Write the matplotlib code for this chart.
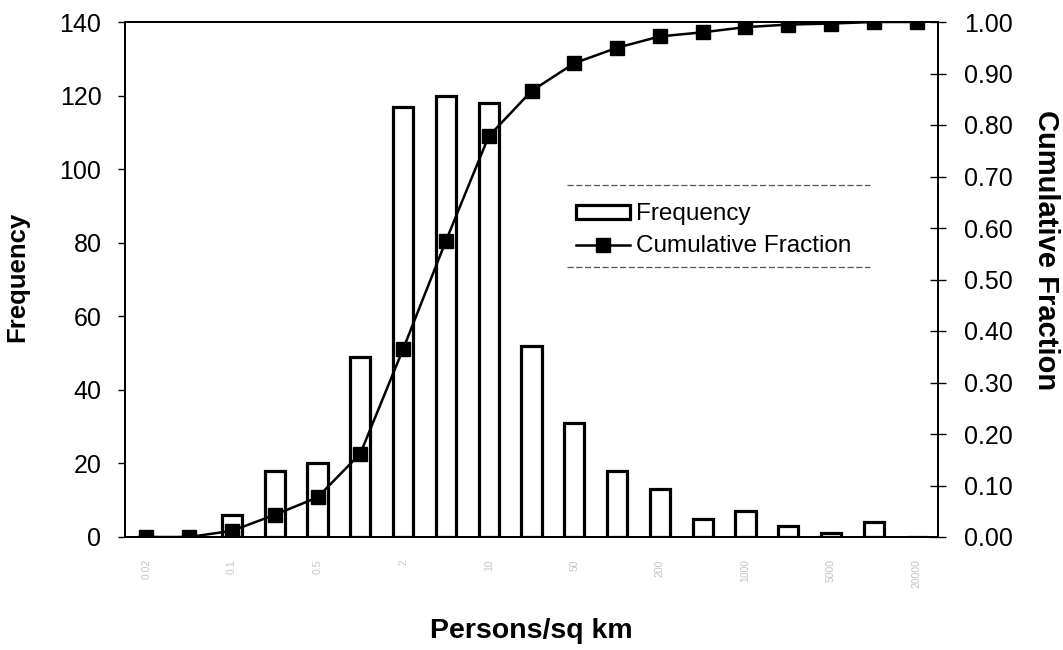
import matplotlib
matplotlib.use("Agg")
import matplotlib.pyplot as plt
from matplotlib.lines import Line2D
import numpy as np

plt.rcParams['font.family'] = ['Liberation Sans', 'DejaVu Sans']

# Data
bin_labels = ["0.02", "0.05", "0.1", "0.2", "0.5", "1", "2", "5", "10", "20",
              "50", "100", "200", "500", "1000", "2000", "5000", "10000", "20000"]
frequency = [0, 0, 6, 18, 20, 49, 117, 120, 118, 52, 31, 18, 13, 5, 7, 3, 1, 4, 0]
cumulative = [0.0, 0.0, 0.012, 0.043, 0.077, 0.162, 0.365, 0.575, 0.778, 0.866,
              0.92, 0.95, 0.972, 0.98, 0.99, 0.995, 0.997, 1.0, 1.0]
freq_ticks = [0, 20, 40, 60, 80, 100, 120, 140]
frac_ticks = [0.0, 0.1, 0.2, 0.3, 0.4, 0.5, 0.6, 0.7, 0.8, 0.9, 1.0]

x = np.arange(len(frequency))

W, H = 1063, 650
fig = plt.figure(figsize=(W / 100, H / 100), dpi=100)
ax = fig.add_axes([125 / W, (H - 537) / H, (938 - 125) / W, (537 - 22) / H])
ax2 = ax.twinx()

bars = ax.bar(x, frequency, width=0.47, facecolor='white', edgecolor='black',
              linewidth=2.3, label='Frequency', zorder=2)
line, = ax2.plot(x, cumulative, color='black', linewidth=1.8, marker='s',
                 markersize=10.5, markerfacecolor='black', label='Cumulative Fraction')

ax.set_xlim(-0.5, len(frequency) - 0.5)
ax.set_ylim(0, 140)
ax.set_yticks(freq_ticks)
ax2.set_ylim(0, 1.0)
ax2.set_yticks(frac_ticks)
ax2.set_yticklabels([f"{v:.2f}" for v in frac_ticks])

ax.set_xticks(x[::2])
ax.set_xticklabels(bin_labels[::2], rotation=90, fontsize=7.5, color='#c4c4c4')
ax.tick_params(axis='x', length=0, pad=16)

ax.tick_params(axis='y', labelsize=18, direction='out', length=5, width=1, pad=12)
ax2.tick_params(axis='y', labelsize=18, direction='inout', length=11, width=1, pad=13)

for a in (ax, ax2):
    for s in a.spines.values():
        s.set_linewidth(1.4)

fig.text(17 / W, 1 - 277 / H, "Frequency", fontsize=18.5, fontweight='bold',
         rotation=90, ha='center', va='center')
fig.text(1046 / W, 1 - 250 / H, "Cumulative Fraction", fontsize=21, fontweight='bold',
         rotation=270, ha='center', va='center')
fig.text(531 / W, 1 - 631 / H, "Persons/sq km", fontsize=20.5, fontweight='bold',
         ha='center', va='center')

leg = ax2.legend(handles=[bars, line], labels=['Frequency', 'Cumulative Fraction'],
                 loc='upper left', bbox_to_anchor=(0.555, 0.648), frameon=False,
                 fontsize=17.5, handlelength=2.2, handleheight=0.5,
                 handletextpad=0.25, borderpad=0, borderaxespad=0,
                 labelspacing=0.42)

# dashed top / bottom rules of the legend box
for yy in (0.6835, 0.524):
    ax2.add_line(Line2D([0.544, 0.916], [yy, yy], transform=ax2.transAxes,
                        color='#555555', linewidth=0.9, linestyle=(0, (5, 2))))

fig.savefig("out.png", dpi=100)
